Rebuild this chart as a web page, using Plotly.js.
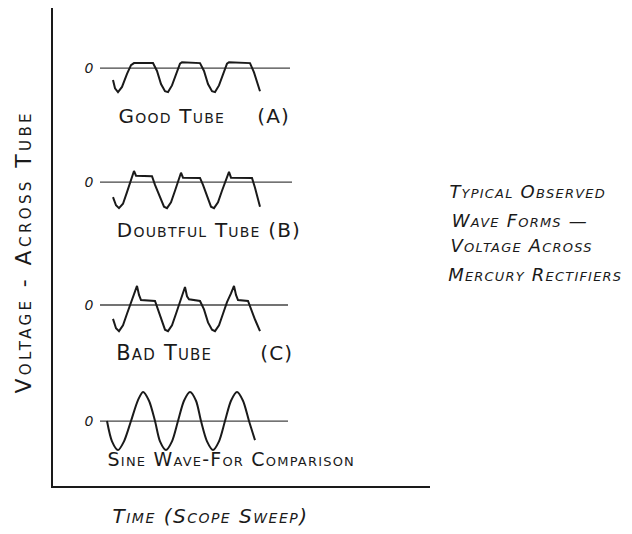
<!DOCTYPE html>
<html><head><meta charset="utf-8">
<script src="https://cdn.plot.ly/plotly-3.0.1.min.js"></script>
<style>
html,body{margin:0;padding:0;background:#fff}
.annotation .annotation-text{letter-spacing:1.2px}
.annotation[data-index="0"] .annotation-text{letter-spacing:3.4px}
.annotation[data-index="1"] .annotation-text{letter-spacing:1.5px}
</style>
</head><body>
<div id="chart" style="width:632px;height:534px"></div>
<script>
// ---- data (time in sweep units, voltage in units of sine peak) ----
const panelLabels = ['Good Tube', 'Doubtful Tube (B)', 'Bad Tube', 'Sine Wave-For Comparison'];
const panelTags = ['(A)', '', '(C)', ''];
const zeroLabel = '0';
const xAxisLabel = 'Time (Scope Sweep)';
const yAxisLabel = 'Voltage - Across Tube';
const noteLines = ['Typical Observed', 'Wave Forms \u2014', 'Voltage Across', 'Mercury Rectifiers'];

const timeGood = [60,62,65,69,74,78,81,100,104,108,112,115,119,123,127,129,147,151,155,159,162,166,170,174,176,197,201,204,207];
const voltGood = [-0.41,-0.7,-0.83,-0.65,-0.2,0.1,0.17,0.17,-0.1,-0.55,-0.8,-0.83,-0.6,-0.2,0.15,0.2,0.17,-0.1,-0.55,-0.8,-0.83,-0.6,-0.2,0.15,0.2,0.17,-0.15,-0.5,-0.8];

const timeDoubtful = [60,63,66,70,74,78,81,83,99,102,107,111,114,118,122,125,128,130,147,150,155,158,161,165,169,173,176,178,199,202,205,207];
const voltDoubtful = [-0.52,-0.8,-0.9,-0.75,-0.35,0.05,0.38,0.22,0.2,-0.1,-0.55,-0.85,-0.9,-0.7,-0.3,0.05,0.32,0.15,0.14,-0.1,-0.55,-0.85,-0.9,-0.7,-0.3,0.05,0.35,0.15,0.14,-0.2,-0.6,-0.85];

const timeBad = [60,63,66,70,74,78,81,84,86,88,102,105,109,112,115,119,123,127,130,132,134,136,147,151,155,159,162,166,170,174,178,181,183,185,195,198,202,207];
const voltBad = [-0.48,-0.8,-0.9,-0.7,-0.3,0.1,0.4,0.66,0.35,0.17,0.14,-0.15,-0.6,-0.85,-0.9,-0.7,-0.3,0.1,0.4,0.62,0.3,0.2,0.14,-0.15,-0.6,-0.85,-0.9,-0.7,-0.3,0.1,0.4,0.66,0.35,0.17,0.14,-0.15,-0.5,-0.9];

const timeSine = [54,59,65,71,78,85,90,96,102,107,113,119,125,131,137,143,148,154,160,166,172,178,184,190,196,202];
const voltSine = [0,-0.7,-1,-0.7,0,0.72,1,0.7,0,-0.7,-1,-0.7,0,0.7,1,0.7,0,-0.7,-1,-0.7,0,0.7,1,0.7,0,-0.66];

// ---- layout constants ----
const rowOffsets = [14.41, 10.48, 6.24, 2.24];
const zeroSpans = [[47, 237], [47, 239], [47, 235], [47, 235]];
const labelX = [69, 72, 66, 67];
const labelSize = [20, 20, 21, 19];
const tagX = [204, null, 207, null];
const ink = '#1a1a1a';
const FONT = 'DejaVu Sans, sans-serif';

const series = [
  [timeGood, voltGood, 'linear'],
  [timeDoubtful, voltDoubtful, 'linear'],
  [timeBad, voltBad, 'linear'],
  [timeSine, voltSine, 'spline']
];

const traces = [];
const annotations = [];

// axis labels first (indices 0 and 1 are styled in CSS)
annotations.push({
  x: -0.077, y: 8.07, xref: 'paper', yref: 'y', text: yAxisLabel, showarrow: false,
  textangle: -90, xanchor: 'center', yanchor: 'middle',
  font: {family: FONT, size: 22, color: ink, variant: 'small-caps'}
});
annotations.push({
  x: 71, y: -0.063, xref: 'x', yref: 'paper', text: xAxisLabel, showarrow: false,
  xanchor: 'left', yanchor: 'middle',
  font: {family: FONT, size: 20, color: ink, variant: 'small-caps', style: 'italic'}
});

series.forEach((s, i) => {
  const off = rowOffsets[i];
  traces.push({
    x: zeroSpans[i], y: [off, off], mode: 'lines', hoverinfo: 'skip',
    line: {color: '#444', width: 1.3}, showlegend: false
  });
  traces.push({
    x: s[0], y: s[1].map(v => v + off), mode: 'lines',
    line: {color: ink, width: 2, shape: s[2], smoothing: 0.8}, showlegend: false
  });
  annotations.push({
    x: 36, y: off, xref: 'x', yref: 'y', text: zeroLabel, showarrow: false,
    xanchor: 'center', yanchor: 'middle',
    font: {family: FONT, size: 14, color: ink, style: 'italic'}
  });
  const dy = i === 3 ? 1.31 : 1.64;
  annotations.push({
    x: labelX[i], y: off - dy, xref: 'x', yref: 'y', text: panelLabels[i],
    showarrow: false, xanchor: 'left', yanchor: 'middle',
    font: {family: FONT, size: labelSize[i], color: ink, variant: 'small-caps'}
  });
  if (panelTags[i]) {
    annotations.push({
      x: tagX[i], y: off - dy, xref: 'x', yref: 'y', text: panelTags[i],
      showarrow: false, xanchor: 'left', yanchor: 'middle',
      font: {family: FONT, size: 20, color: ink, variant: 'small-caps'}
    });
  }
});

const noteY = [10.17, 9.17, 8.28, 7.28];
noteLines.forEach((t, i) => {
  annotations.push({
    x: 1.072, y: noteY[i], xref: 'paper', yref: 'y', text: t, showarrow: false,
    xanchor: 'left', yanchor: 'middle',
    font: {family: FONT, size: 18, color: ink, variant: 'small-caps', style: 'italic'}
  });
});

const layout = {
  width: 632, height: 534,
  margin: {l: 53, r: 202, t: 8, b: 48},
  paper_bgcolor: '#fff', plot_bgcolor: '#fff',
  xaxis: {range: [0, 377], showline: true, linecolor: ink, linewidth: 2,
          showgrid: false, zeroline: false, showticklabels: false, ticks: ''},
  yaxis: {range: [0, 16.48], showline: true, linecolor: ink, linewidth: 2,
          showgrid: false, zeroline: false, showticklabels: false, ticks: ''},
  annotations: annotations,
  showlegend: false
};

Plotly.newPlot('chart', traces, layout, {displayModeBar: false, staticPlot: true});
</script>
</body></html>
